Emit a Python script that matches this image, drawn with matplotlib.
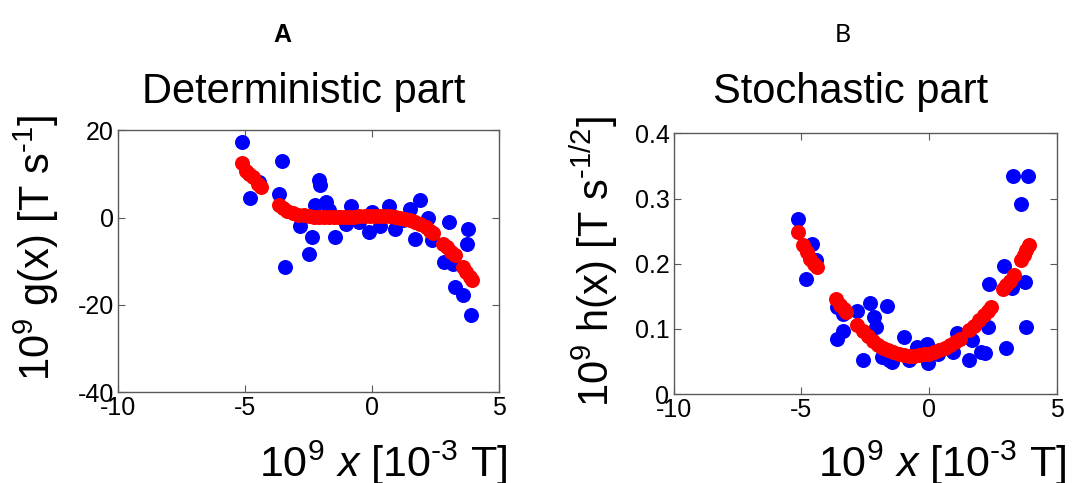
import matplotlib.pyplot as plt

plt.rcParams['font.family'] = ['Liberation Sans', 'DejaVu Sans']
plt.rcParams['mathtext.fontset'] = 'custom'
plt.rcParams['mathtext.rm'] = 'Liberation Sans'
plt.rcParams['mathtext.it'] = 'Liberation Sans:italic'
plt.rcParams['axes.unicode_minus'] = False

# Panel A: deterministic part, data (blue) and fit (red)
g_data_x = [-5.13, -4.80, -4.44, -3.56, -3.65, -3.43, -2.83, -2.49, -2.36, -2.27,
            -2.10, -2.05, -1.81, -1.68, -1.47, -1.29, -1.02, -0.83, -0.50, -0.13,
            0.00, 0.31, 0.66, 0.88, 1.21, 1.47, 1.67, 1.89, 2.19, 2.36,
            2.82, 3.02, 3.18, 3.24, 3.57, 3.74, 3.77, 3.87]
g_data_y = [17.4, 4.4, 8.2, 12.9, 5.4, -11.3, -1.8, -8.3, -4.4, 2.8,
            8.6, 7.6, 3.6, 1.7, -4.4, 0.2, -1.5, 2.6, -1.0, -3.3,
            1.3, -1.8, 2.6, -2.5, -0.6, 2.1, -5.0, 4.0, 0.0, -5.2,
            -10.2, -1.0, -10.6, -15.9, -17.8, -6.0, -2.5, -22.2]
g_fit_x = [-5.13, -4.95, -4.83, -4.70, -4.50, -4.37,
           -3.65, -3.50, -3.35, -3.10, -2.90, -2.70, -2.50, -2.30, -2.10, -1.90,
           -1.70, -1.50, -1.30, -1.10, -0.90, -0.70, -0.50, -0.30, -0.10, 0.10,
           0.30, 0.50, 0.70, 0.90, 1.10, 1.30, 1.50, 1.70, 1.90, 2.10, 2.26, 2.40,
           2.78, 2.95, 3.10, 3.24,
           3.57, 3.70, 3.83, 3.92]
g_fit_y = [12.5, 10.8, 10.1, 9.3, 7.8, 7.0,
           2.8, 2.2, 1.6, 1.0, 0.7, 0.5, 0.3, 0.2, 0.1, 0.1,
           0.1, 0.1, 0.1, 0.1, 0.2, 0.2, 0.3, 0.3, 0.4, 0.4,
           0.4, 0.4, 0.3, 0.2, 0.0, -0.3, -0.6, -1.0, -1.5, -2.2, -3.0, -3.6,
           -6.0, -6.8, -7.8, -8.6,
           -11.3, -12.5, -13.6, -14.3]

# Panel B: stochastic part
h_data_x = [-5.12, -4.81, -4.58, -4.41, -3.62, -3.36, -3.59, -3.37, -2.81, -2.58,
            -2.31, -2.16, -2.09, -1.66, -1.83, -1.57, -1.44, -0.98, -0.78, -0.48,
            -0.09, -0.04, 0.33, 0.92, 1.08, 1.57, 1.66, 2.03, 2.18, 2.29,
            2.35, 2.92, 3.01, 3.23, 3.27, 3.59, 3.73, 3.79, 3.88]
h_data_y = [0.268, 0.177, 0.230, 0.205, 0.085, 0.097, 0.134, 0.123, 0.128, 0.052,
            0.139, 0.118, 0.103, 0.135, 0.057, 0.052, 0.049, 0.088, 0.053, 0.072,
            0.077, 0.048, 0.062, 0.065, 0.093, 0.053, 0.083, 0.065, 0.063, 0.103,
            0.169, 0.197, 0.070, 0.162, 0.335, 0.292, 0.172, 0.103, 0.335]
h_fit_x = [-5.12, -4.95, -4.80, -4.65, -4.50, -4.38,
           -3.66, -3.50, -3.35, -3.25,
           -2.81, -2.60, -2.40, -2.20, -2.00, -1.80, -1.60, -1.40, -1.20, -1.00,
           -0.80, -0.60, -0.40, -0.20, 0.00, 0.20, 0.40, 0.60, 0.80, 1.00, 1.20,
           1.57, 1.75, 1.95, 2.15, 2.30, 2.42,
           2.88, 3.00, 3.15, 3.33,
           3.59, 3.70, 3.80, 3.92]
h_fit_y = [0.248, 0.228, 0.218, 0.208, 0.200, 0.195,
           0.146, 0.137, 0.130, 0.126,
           0.106, 0.097, 0.089, 0.082, 0.076, 0.071, 0.067, 0.064, 0.062, 0.060,
           0.059, 0.059, 0.060, 0.061, 0.062, 0.064, 0.067, 0.071, 0.075, 0.080, 0.085,
           0.098, 0.105, 0.113, 0.121, 0.128, 0.133,
           0.161, 0.167, 0.174, 0.182,
           0.206, 0.213, 0.221, 0.228]

xticks = [-10, -5, 0, 5]

fig = plt.figure(figsize=(10.83, 4.83), dpi=100)
axA = fig.add_axes([0.109, 0.188, 0.352, 0.542])
axB = fig.add_axes([0.622, 0.184, 0.354, 0.540])


def style(ax):
    for sp in ax.spines.values():
        sp.set_color('#5a5a5a')
        sp.set_linewidth(1.0)
    ax.tick_params(direction='in', top=True, right=True, length=5,
                   color='#5a5a5a', labelsize=18, pad=3)
    ax.set_xticks(xticks)
    ax.set_xlim(-10, 5)


axA.plot(g_data_x, g_data_y, 'o', color='#0000ff', ms=10.8, mec='none')
axA.plot(g_fit_x, g_fit_y, 'o', color='#ff0000', ms=10.8, mec='none')
style(axA)
axA.set_ylim(-40, 20)
axA.set_yticks([-40, -20, 0, 20])

axB.plot(h_data_x, h_data_y, 'o', color='#0000ff', ms=10.8, mec='none')
axB.plot(h_fit_x, h_fit_y, 'o', color='#ff0000', ms=10.8, mec='none')
style(axB)
axB.set_ylim(0, 0.4)
axB.set_yticks([0, 0.1, 0.2, 0.3, 0.4])
axB.set_yticklabels(['0', '0.1', '0.2', '0.3', '0.4'])

xlab = r'10$^9$ $x$ [10$^{\text{-3}}$ T]'
axA.text(1.021, -0.324, xlab, transform=axA.transAxes, ha='right',
         va='baseline', fontsize=31)
axB.text(1.026, -0.318, xlab, transform=axB.transAxes, ha='right',
         va='baseline', fontsize=31)

axA.text(-0.215, 0.553, r'10$^9$ g(x) [T s$^{\text{-1}}$]', transform=axA.transAxes,
         rotation=90, ha='center', va='center', fontsize=30)
axB.text(-0.206, 0.506, r'10$^9$ h(x) [T s$^{\text{-1/2}}$]', transform=axB.transAxes,
         rotation=90, ha='center', va='center', fontsize=30)

axA.text(0.486, 1.103, 'Deterministic part', transform=axA.transAxes,
         ha='center', va='baseline', fontsize=30)
axB.text(0.462, 1.115, 'Stochastic part', transform=axB.transAxes,
         ha='center', va='baseline', fontsize=30)

fig.text(282 / 1083, 1 - 42 / 483, 'A', ha='center', va='baseline',
         fontsize=18, fontweight='bold')
fig.text(843 / 1083, 1 - 42 / 483, 'B', ha='center', va='baseline',
         fontsize=18, family=['Lato', 'DejaVu Sans'])

fig.savefig('out.png', dpi=100)
